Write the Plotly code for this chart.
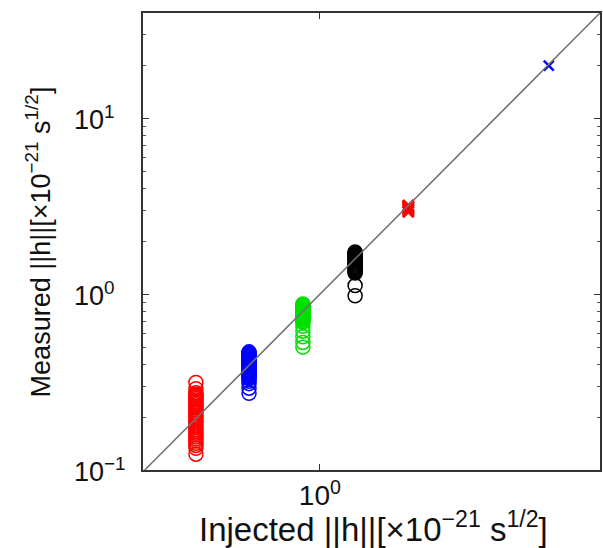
import math
import plotly.graph_objects as go

# Injected strain amplitude for each signal set (x 1e-21 s^1/2)
injected_red = 0.196
injected_blue = 0.394
injected_green = 0.80
injected_black = 1.59
injected_red_x = 3.2
injected_blue_x = 20.3

# Recovered (measured) amplitudes for each injection set
measured_red = [0.315, 0.29, 0.275, 0.27, 0.265, 0.26, 0.255, 0.25, 0.245, 0.24,
                0.235, 0.23, 0.225, 0.22, 0.215, 0.21, 0.205, 0.20, 0.195, 0.19,
                0.185, 0.18, 0.175, 0.17, 0.166, 0.162, 0.158, 0.154, 0.15, 0.146,
                0.142, 0.138, 0.133, 0.123]
measured_blue = [0.47, 0.465, 0.46, 0.455, 0.45, 0.445, 0.44, 0.435, 0.43, 0.425,
                 0.42, 0.415, 0.41, 0.405, 0.40, 0.395, 0.39, 0.385, 0.38, 0.375,
                 0.37, 0.365, 0.36, 0.355, 0.35, 0.345, 0.34, 0.335, 0.33, 0.32,
                 0.31, 0.292, 0.273]
measured_green = [0.88, 0.87, 0.86, 0.85, 0.84, 0.83, 0.82, 0.81, 0.80, 0.79,
                  0.78, 0.77, 0.76, 0.75, 0.74, 0.73, 0.72, 0.71, 0.70, 0.69,
                  0.657, 0.615, 0.573, 0.532, 0.50]
measured_black = [1.74, 1.72, 1.70, 1.68, 1.66, 1.64, 1.62, 1.60, 1.58, 1.56,
                  1.54, 1.52, 1.50, 1.48, 1.46, 1.44, 1.42, 1.40, 1.38, 1.36,
                  1.34, 1.32, 1.12, 0.98]
measured_red_x = [2.95, 3.02, 3.08, 3.14, 3.2]
measured_blue_x = [20.0]

# Reference line y = x
diag = [0.1, 40.0]

# Axis ticks
y_ticks = [0.1, 1, 10]
y_tick_text = ["10<sup>\u22121</sup>", "10<sup>0</sup>", "10<sup>1</sup>"]
x_ticks = [1]
x_tick_text = ["10<sup>0</sup>"]
y_minor = [0.2, 0.3, 0.4, 0.5, 0.6, 0.7, 0.8, 0.9,
           2, 3, 4, 5, 6, 7, 8, 9, 20, 30, 40]

FONT = "Liberation Sans, Arial, Helvetica, sans-serif"

fig = go.Figure()


def circles(xv, yv, color):
    fig.add_trace(go.Scatter(
        x=[xv] * len(yv), y=yv, mode="markers",
        marker=dict(symbol="circle-open", size=14, color=color,
                    line=dict(width=1.5, color=color)),
        showlegend=False, hoverinfo="x+y"))


circles(injected_red, measured_red, "#ff0000")
circles(injected_blue, measured_blue, "#0000ff")
circles(injected_green, measured_green, "#00e000")
circles(injected_black, measured_black, "#000000")

fig.add_trace(go.Scatter(
    x=[injected_red_x] * len(measured_red_x), y=measured_red_x, mode="markers",
    marker=dict(symbol="x-thin-open", size=11, color="#ff0000",
                line=dict(width=3, color="#ff0000")),
    showlegend=False))
fig.add_trace(go.Scatter(
    x=[injected_blue_x] * len(measured_blue_x), y=measured_blue_x, mode="markers",
    marker=dict(symbol="x-thin-open", size=10, color="#0000ff",
                line=dict(width=2.5, color="#0000ff")),
    showlegend=False))

fig.add_trace(go.Scatter(
    x=diag, y=diag, mode="lines",
    line=dict(color="#707070", width=1.5),
    showlegend=False, hoverinfo="skip"))

axis_common = dict(
    type="log", showgrid=False, zeroline=False,
    showline=True, linecolor="#333333", linewidth=1.5,
    mirror="ticks", ticks="inside", tickcolor="#333333",
    tickwidth=1, ticklen=6,
)

fig.update_xaxes(
    **axis_common, range=[-1.01, 1.6],
    tickmode="array", tickvals=x_ticks, ticktext=x_tick_text,
    tickfont=dict(family=FONT, size=28, color="#111111"),
)
fig.update_yaxes(
    **axis_common, range=[-1, 1.6],
    tickmode="array", tickvals=y_ticks, ticktext=[""] * len(y_ticks),
    showticklabels=False,
    minor=dict(tickmode="array", tickvals=y_minor, ticks="inside",
               ticklen=3, tickcolor="#555555", tickwidth=1),
)

# y tick labels, left-aligned (log axis annotations take log10 positions)
for v, t in zip(y_ticks, y_tick_text):
    fig.add_annotation(
        x=-0.155, xref="paper", y=math.log10(v), yref="y", yanchor="middle",
        xanchor="left", text=t, showarrow=False,
        font=dict(family=FONT, size=27, color="#111111"))

fig.add_annotation(
    x=0.505, xref="paper", y=-0.125, yref="paper", yanchor="middle",
    xanchor="center", showarrow=False,
    text="Injected ||h||[\u00d710<sup>\u221221</sup> s<sup>1/2</sup>]",
    font=dict(family=FONT, size=33, color="#111111"))

fig.add_annotation(
    x=-0.23, xref="paper", y=0.5, yref="paper", xanchor="center",
    yanchor="middle", textangle=-90, showarrow=False,
    text="Measured ||h||[\u00d710<sup>\u221221</sup> s<sup>1/2</sup>]",
    font=dict(family=FONT, size=27, color="#111111"))

fig.update_layout(
    width=603, height=548,
    margin=dict(l=143, r=1, t=13, b=78),
    paper_bgcolor="white", plot_bgcolor="white",
)

fig.write_html("out.html")
